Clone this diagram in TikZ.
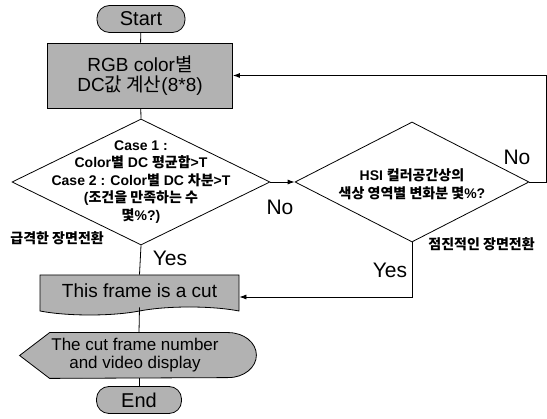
\documentclass[tikz,border=0pt]{standalone}
\usepackage{fontspec}
\setmainfont{Liberation Sans}
\newfontfamily\kfont{Noto Sans CJK KR}
\usetikzlibrary{positioning,arrows.meta,shapes.geometric,shapes.symbols}

\begin{document}
\begin{tikzpicture}[x=1pt,y=-1pt,line width=0.8pt,
  every node/.style={inner sep=0pt},
  greyfill/.style={draw,fill=black!30},
  terminal/.style={greyfill,rounded corners=12.5pt,minimum height=27pt,font=\fontsize{20}{22}\selectfont},
  decision/.style={draw,diamond,inner sep=0pt},
  dectext/.style={align=center,font=\bfseries\fontsize{14}{17.5}\selectfont},
  yesno/.style={font=\fontsize{21}{22}\selectfont},
  note/.style={right,font=\kfont\bfseries\fontsize{14}{14}\selectfont},
  arrow/.style={-{Latex[length=7pt,width=5pt]}}]
\useasboundingbox (0,0) rectangle (547,419);

\node[terminal,minimum width=88pt] (start) at (141,19) {Start};
\node[greyfill,minimum width=185pt,minimum height=65pt,align=center,font=\fontsize{19}{20.5}\selectfont] (rgb) at (140,75.5)
  {RGB color{\kfont 별}\\DC{\kfont 값 계산}(8*8)};
\node[decision,minimum width=258pt,minimum height=126pt] (dec1) at (141,182) {};
\node[dectext] at (dec1) {Case 1 :\\Color{\kfont 별} DC {\kfont 평균합}>T\\Case 2 : Color{\kfont 별} DC {\kfont 차분}>T\\({\kfont 조건을 만족하는 수}\\{\kfont 몇}\%?)};
\node[decision,minimum width=234pt,minimum height=120pt] (dec2) at (412,182) {};
\node[dectext,font=\bfseries\fontsize{14}{18}\selectfont] at ([yshift=-2pt]dec2) {HSI {\kfont 컬러공간상의}\\{\kfont 색상 영역별 변화분 몇}\%?};
\node[greyfill,tape,tape bend top=none,tape bend bottom=in and out,tape bend height=8pt,minimum width=199pt,minimum height=40pt,font=\fontsize{19}{20}\selectfont] (cut) at (139.5,291) {This frame is a cut};
\node[minimum width=178pt,minimum height=45pt] (disp) at (139,355.5) {};
\draw[greyfill] ([xshift=-30pt]disp.west) -- (disp.north west) -- (disp.north east)
  arc[start angle=90,end angle=-90,x radius=28pt,y radius=22.5pt] -- (disp.south west) -- cycle;
\node[align=center,font=\fontsize{17}{18}\selectfont] at ([xshift=-4pt]disp) {The cut frame number\\and video display};
\node[terminal,minimum width=85pt] (end) at (139,400) {End};

\node[note] (abrupt) at (10,238) {급격한 장면전환};
\node[note] (gradual) at (428,244) {점진적인 장면전환};
\node[yesno] (yes1) at (170,258) {Yes};
\node[yesno] (yes2) at (390,270) {Yes};
\node[yesno] (no1) at (280,207) {No};
\node[yesno] (no2) at (517,157) {No};

\draw (start) -- (rgb);
\draw (rgb) -- (dec1.north);
\draw[arrow] (dec1.east) -- (dec2.west);
\draw[arrow] (dec2.east) -- ++(17,0) |- (rgb.east);
\draw (dec1.south) -- (cut.north);
\draw[arrow] (dec2.south) |- ([yshift=-6pt]cut.east);
\draw (cut.south) -- (disp.north);
\draw (disp.south) -- (end.north);
\end{tikzpicture}
\end{document}
